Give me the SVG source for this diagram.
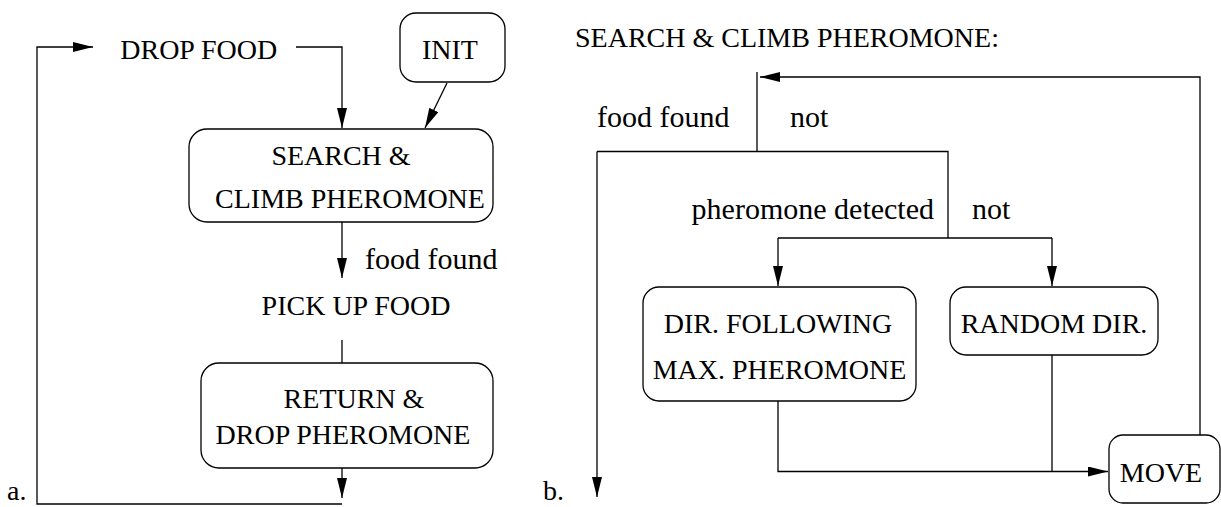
<svg xmlns="http://www.w3.org/2000/svg" width="1221" height="507" viewBox="0 0 1221 507">
<defs>
<marker id="arr" markerUnits="userSpaceOnUse" markerWidth="20" markerHeight="10" refX="20" refY="5" orient="auto">
<path d="M0,0 L20,5 L0,10 z" fill="#000"/>
</marker>
<style>
.box{fill:#fff;stroke:#000;stroke-width:1.3}
.ln{fill:none;stroke:#000;stroke-width:1.3}
.ar{fill:none;stroke:#000;stroke-width:1.3;marker-end:url(#arr)}
text{font-family:"Liberation Serif","Times New Roman","DejaVu Serif",serif;font-size:28px;fill:#000}
.lc{font-size:30px}
.m{text-anchor:middle}
</style>
</defs>
<rect width="1221" height="507" fill="#fff"/>
<g id="connectors">
<path class="ar" d="M342,504 H37 V47 H93"/>
<path class="ar" d="M342,468 V498"/>
<path class="ar" d="M296,47 H342 V128"/>
<path class="ar" d="M447,83 L425,128"/>
<path class="ar" d="M342,222 V278"/>
<path class="ln" d="M342,340 V363"/>
<path class="ar" d="M1200,435 V77 H760"/>
<path class="ln" d="M757,72 V151.5"/>
<path class="ln" d="M597,151.5 H948 V238"/>
<path class="ar" d="M597,151.5 V497"/>
<path class="ln" d="M778,238 H1052"/>
<path class="ar" d="M778,238 V286"/>
<path class="ar" d="M1052,238 V286"/>
<path class="ar" d="M778,401 V471.5 H1108"/>
<path class="ln" d="M1052,355 V471.5"/>
</g>
<g id="labels">
<text x="198.7" y="59" class="m">DROP FOOD</text>
<text x="365" y="269" class="lc">food found</text>
<text x="356" y="315" class="m">PICK UP FOOD</text>
<text x="7" y="500">a.</text>
<text x="575" y="47">SEARCH &amp; CLIMB PHEROMONE:</text>
<text x="597" y="127" class="lc">food found</text>
<text x="790" y="127" class="lc">not</text>
<text x="934" y="219" class="lc" text-anchor="end">pheromone detected</text>
<text x="972" y="219" class="lc">not</text>
<text x="543" y="500">b.</text>
</g>
<g id="init">
<rect class="box" x="400" y="13" width="105" height="69" rx="16"/>
<text x="450" y="59" class="m">INIT</text>
</g>
<g id="search">
<rect class="box" x="189" y="129" width="304" height="93" rx="18"/>
<text x="341" y="165" class="m">SEARCH &amp;</text>
<text x="350" y="208" class="m">CLIMB PHEROMONE</text>
</g>
<g id="return">
<rect class="box" x="201" y="363" width="292" height="105" rx="18"/>
<text x="354" y="408" class="m">RETURN &amp;</text>
<text x="343" y="444" class="m">DROP PHEROMONE</text>
</g>
<g id="dirfollow">
<rect class="box" x="643" y="287" width="273" height="114" rx="16"/>
<text x="778" y="333" class="m">DIR. FOLLOWING</text>
<text x="779.5" y="379" class="m">MAX. PHEROMONE</text>
</g>
<g id="randomdir">
<rect class="box" x="950" y="287" width="208" height="68" rx="16"/>
<text x="1054" y="333" class="m">RANDOM DIR.</text>
</g>
<g id="move">
<rect class="box" x="1109" y="435" width="111" height="68" rx="14"/>
<text x="1161" y="482" class="m">MOVE</text>
</g>
</svg>
